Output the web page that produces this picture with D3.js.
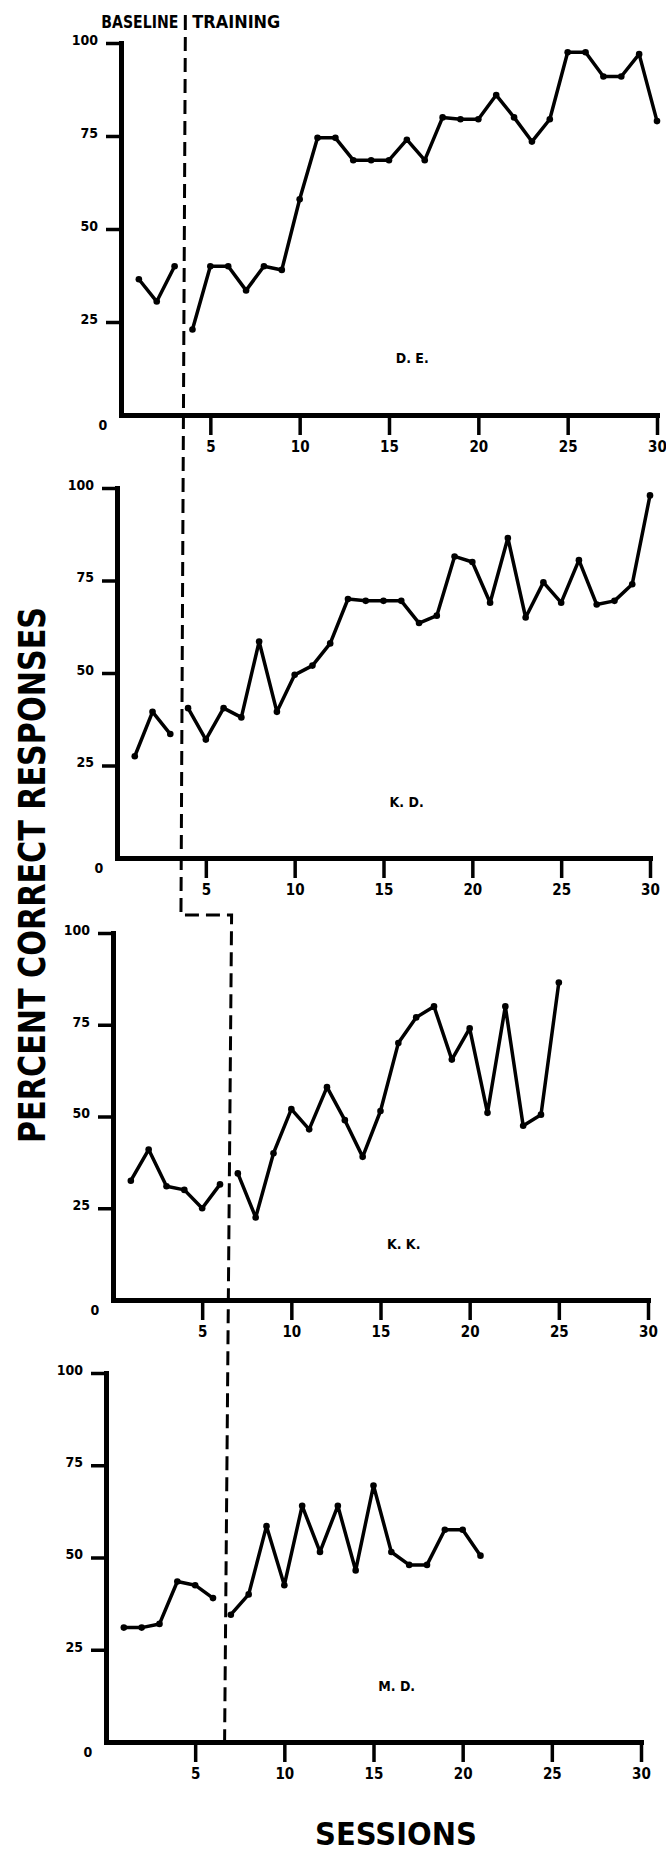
<!DOCTYPE html>
<html>
<head>
<meta charset="utf-8">
<script src="https://cdn.jsdelivr.net/npm/d3@7"></script>
<style>
  body { margin: 0; background: #fff; }
  svg text { font-family: "DejaVu Sans Condensed", "DejaVu Sans", sans-serif; font-weight: bold; fill: #000; }
</style>
</head>
<body>
<div id="chart"></div>
<script>
// Data
const sessionTicks = [5, 10, 15, 20, 25, 30];
const percentTicks = [25, 50, 75, 100];
const subjects = ["D. E.", "K. D.", "K. K.", "M. D."];
const phaseChange = [3.6, 3.6, 6.65, 6.65];

const deBaseline = [36.5, 30.5, 40];
const deTraining = [23, 40, 40, 33.5, 40, 39, 58, 74.5, 74.5, 68.5, 68.5, 68.5, 74, 68.5,
    80, 79.5, 79.5, 86, 80, 73.5, 79.5, 97.5, 97.5, 91, 91, 97, 79];

const kdBaseline = [27.5, 39.5, 33.5];
const kdTraining = [40.5, 32, 40.5, 38, 58.5, 39.5, 49.5, 52, 58, 70, 69.5, 69.5, 69.5, 63.5,
    65.5, 81.5, 80, 69, 86.5, 65, 74.5, 69, 80.5, 68.5, 69.5, 74, 98];

const kkBaseline = [32.5, 41, 31, 30, 25, 31.5];
const kkTraining = [34.5, 22.5, 40, 52, 46.5, 58, 49, 39, 51.5, 70, 77, 80, 65.5, 74, 51,
    80, 47.5, 50.5, 86.5];

const mdBaseline = [31, 31, 32, 43.5, 42.5, 39];
const mdTraining = [34.5, 40, 58.5, 42.5, 64, 51.5, 64, 46.5, 69.5, 51.5, 48, 48, 57.5, 57.5, 50.5];

const baselines = [deBaseline, kdBaseline, kkBaseline, mdBaseline];
const trainings = [deTraining, kdTraining, kkTraining, mdTraining];

// Lay-out of the four stacked panels (pixels)
const fullWidth = 666, fullHeight = 1854;
const frames = [
    { left: 121, right: 657, top: 43, bottom: 415 },
    { left: 117, right: 650, top: 488, bottom: 858 },
    { left: 113, right: 648, top: 933, bottom: 1300 },
    { left: 106, right: 641, top: 1373, bottom: 1742 }
];

const svg = d3.select("#chart").append("svg")
    .attr("width", fullWidth)
    .attr("height", fullHeight)
    .style("display", "block");

svg.append("rect").attr("width", fullWidth).attr("height", fullHeight).attr("fill", "#fff");

const toPoints = (vals, start) => vals.map((v, i) => ({ s: start + i, v: v }));

const scales = frames.map(f => ({
    x: d3.scaleLinear().domain([0, 30]).range([f.left, f.right]),
    y: d3.scaleLinear().domain([0, 100]).range([f.bottom, f.top])
}));

frames.forEach((f, i) => {
    const { x, y } = scales[i];
    const g = svg.append("g");

    // axes
    const yAxis = g.append("g")
        .attr("transform", `translate(${f.left},0)`)
        .call(d3.axisLeft(y).tickValues(percentTicks).tickSize(15).tickSizeOuter(0).tickPadding(8));
    const xAxis = g.append("g")
        .attr("transform", `translate(0,${f.bottom})`)
        .call(d3.axisBottom(x).tickValues(sessionTicks).tickSize(20).tickSizeOuter(0).tickPadding(6));

    [xAxis, yAxis].forEach(axis => {
        axis.select(".domain").attr("stroke", "#000").attr("stroke-width", 5).attr("stroke-linecap", "square");
        axis.selectAll(".tick line").attr("stroke", "#000").attr("stroke-width", 3.5);
        axis.selectAll("text").style("font-size", "14px");
    });
    yAxis.selectAll("text").attr("dy", "0.1em");
    xAxis.selectAll("text").style("font-size", "15px");

    g.append("text")
        .attr("x", f.left - 18).attr("y", f.bottom + 11)
        .attr("text-anchor", "middle").attr("dominant-baseline", "middle")
        .style("font-size", "14px")
        .text("0");

    // data lines
    const line = d3.line().x(d => x(d.s)).y(d => y(d.v));
    const base = toPoints(baselines[i], 1);
    const train = toPoints(trainings[i], baselines[i].length + 1);

    [base, train].forEach(pts => {
        g.append("path")
            .datum(pts)
            .attr("fill", "none")
            .attr("stroke", "#000")
            .attr("stroke-width", 3.5)
            .attr("stroke-linejoin", "round")
            .attr("stroke-linecap", "round")
            .attr("d", line);
        g.selectAll(null).data(pts).join("circle")
            .attr("cx", d => x(d.s)).attr("cy", d => y(d.v))
            .attr("r", 3.3).attr("fill", "#000");
    });

    // subject label
    g.append("text")
        .attr("x", x(16.3)).attr("y", y(15))
        .attr("text-anchor", "middle").attr("dominant-baseline", "middle")
        .style("font-size", "14px")
        .text(subjects[i]);
});

// Phase change line (dashed, steps over between K.D. and K.K.)
const px = scales.map((sc, i) => sc.x(phaseChange[i]));
const stepY = 915;
const phasePath = d3.line()([
    [px[0], 37],
    [px[1], stepY],
    [px[2], stepY],
    [px[3], frames[3].bottom]
]);
svg.append("path")
    .attr("d", phasePath)
    .attr("fill", "none")
    .attr("stroke", "#000")
    .attr("stroke-width", 3)
    .attr("stroke-dasharray", "14,7");

// Phase labels
svg.append("text")
    .attr("x", px[0] - 7).attr("y", 28)
    .attr("text-anchor", "end")
    .attr("textLength", 77).attr("lengthAdjust", "spacingAndGlyphs")
    .style("font-size", "17px")
    .text("BASELINE");
svg.append("line")
    .attr("x1", px[0]).attr("x2", px[0])
    .attr("y1", 15).attr("y2", 30)
    .attr("stroke", "#000").attr("stroke-width", 3);
svg.append("text")
    .attr("x", px[0] + 7).attr("y", 28)
    .attr("textLength", 88).attr("lengthAdjust", "spacingAndGlyphs")
    .style("font-size", "17px")
    .text("TRAINING");

// Axis titles
svg.append("text")
    .attr("transform", "translate(45,875) rotate(-90)")
    .attr("text-anchor", "middle")
    .attr("textLength", 536).attr("lengthAdjust", "spacingAndGlyphs")
    .style("font-family", "'DejaVu Sans', sans-serif")
    .style("font-size", "37px")
    .text("PERCENT  CORRECT  RESPONSES");

svg.append("text")
    .attr("x", 396).attr("y", 1845)
    .attr("text-anchor", "middle")
    .attr("textLength", 162).attr("lengthAdjust", "spacingAndGlyphs")
    .style("font-family", "'DejaVu Sans', sans-serif")
    .style("font-size", "32px")
    .text("SESSIONS");
</script>
</body>
</html>
